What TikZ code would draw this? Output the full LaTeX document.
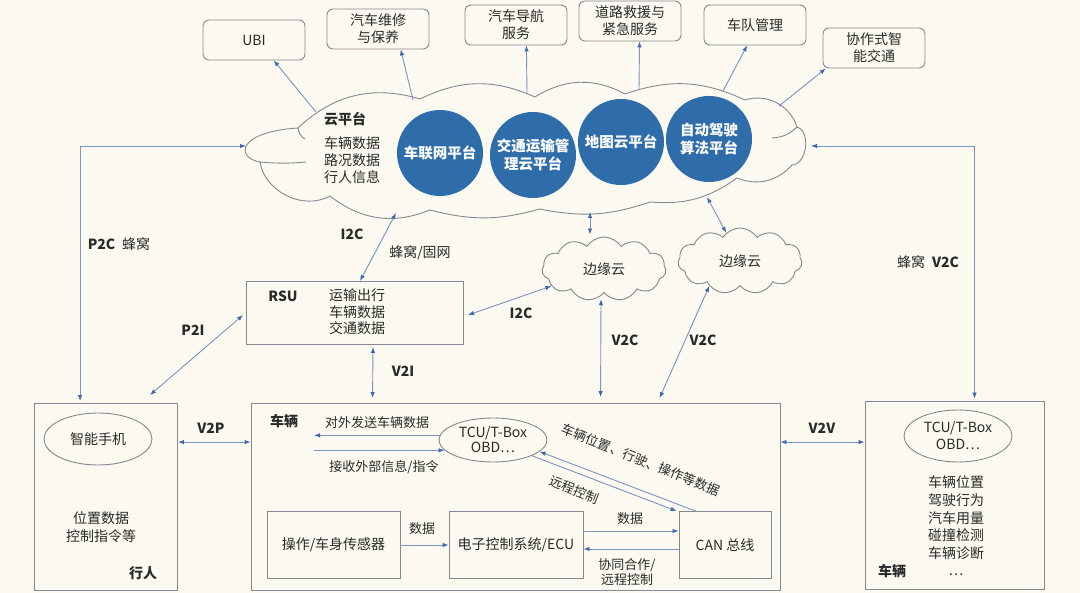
\documentclass[tikz,border=0pt]{standalone}
\usepackage{fontspec}
\setmainfont{Noto Sans CJK SC}
\usetikzlibrary{arrows.meta,positioning,calc,shapes.symbols,shapes.geometric}

\definecolor{cPaper}{HTML}{FCF9F0}
\definecolor{cInk}{HTML}{2A2A2A}
\definecolor{cEdge}{HTML}{858890}
\definecolor{cWire}{HTML}{7A93BF}
\definecolor{cTip}{HTML}{3E68B0}
\definecolor{cPlat}{HTML}{2E6DAA}

\begin{document}
\begin{tikzpicture}[x=1pt, y=-1pt,
  >={Latex[length=6pt,width=4.5pt,color=cTip]},
  every node/.style={text=cInk, font=\fontsize{14}{17}\selectfont, align=center, inner sep=0pt},
  svc/.style={draw=cEdge, line width=0.9pt, rounded corners=6pt, minimum width=102pt, minimum height=40pt},
  plat/.style={circle, fill=cPlat, minimum size=86pt, text=white, font=\bfseries\fontsize{14.5}{18}\selectfont},
  frame/.style={draw=cEdge, line width=0.9pt},
  oval/.style={ellipse, draw=cEdge, line width=0.9pt, minimum width=108pt},
  puff/.style={cloud, cloud puffs=11, cloud puff arc=115, cloud ignores aspect, draw=cEdge, fill=cPaper, line width=0.9pt},
  link/.style={draw=cWire, line width=0.9pt, ->},
  dlink/.style={draw=cWire, line width=0.9pt, <->},
  lbl/.style={font=\bfseries\fontsize{14}{17}\selectfont},
  note/.style={font=\fontsize{13}{16}\selectfont},
]
\fill[cPaper] (0,0) rectangle (1080,593);
\useasboundingbox (0,0) rectangle (1080,593);

% services on top
\node[svc] (ubi) at (254,40) {UBI};
\node[svc] (repair) at (378,29) {汽车维修\\与保养};
\node[svc] (navi) at (516,25) {汽车导航\\服务};
\node[svc] (rescue) at (630,21) {道路救援与\\紧急服务};
\node[svc] (fleet) at (755,25) {车队管理};
\node[svc] (coop) at (874,48) {协作式智\\能交通};

% cloud platform
\draw[frame, fill=cPaper] (260,162) .. controls (236,158) and (236,132) .. (298,128)
  to[bend left=30] (420,99)
  to[bend left=25] (535,97)
  to[bend left=30] (625,94)
  to[bend left=22] (745,100)
  to[bend left=45] (797,127)
  to[bend left=80] (792,165)
  to[bend left=35] (737,178)
  to[bend left=20] (650,202)
  to[bend left=15] (540,209)
  to[bend left=15] (430,210)
  to[bend left=30] (330,196)
  to[bend left=55] cycle;
\draw[frame] (260,162) to[bend right=5] (306,162);
\draw[frame] (298,128) to[bend right=25] (305,139);
\draw[frame] (797,127) to[bend left=20] (772,138);

\coordinate (cu1) at (316,112);
\coordinate (cu2) at (413,100);
\coordinate (cu3) at (527,94);
\coordinate (cu4) at (639,90);
\coordinate (cu5) at (723,91);
\coordinate (cu6) at (779,106);
\coordinate (cb0) at (396,213);
\coordinate (cb1) at (590,212);
\coordinate (cb2) at (707,197);
\coordinate (cleft) at (246,146);
\coordinate (cright) at (811,146);

\node[font=\bfseries\fontsize{14}{17}\selectfont] (ptitle) at (345,119) {云平台};
\node (pdata) at (352,160) {车辆数据\\路况数据\\行人信息};

\node[plat] (iov) at (440,153) {车联网平台};
\node[plat] (traffic) at (533,155) {交通运输管\\理云平台};
\node[plat] (map) at (621,142) {地图云平台};
\node[plat] (adas) at (709,139) {自动驾驶\\算法平台};

% edge clouds
\node[puff, minimum width=124pt, minimum height=64pt] (edge1) at (604,269) {边缘云};
\node[puff, minimum width=124pt, minimum height=66pt] (edge2) at (740,261) {边缘云};

% RSU
\node[frame, minimum width=217pt, minimum height=63pt] (rsu) at (355,313) {};
\node[lbl] (rsutag) at (283,296) {RSU};
\node[font=\fontsize{14}{16.5}\selectfont] (rsudata) at (357,312) {运输出行\\车辆数据\\交通数据};

% pedestrian
\node[frame, minimum width=143pt, minimum height=187pt] (ped) at (106,497) {};
\node[oval, minimum height=52pt] (phone) at (98,439) {智能手机};
\node[font=\fontsize{14}{18}\selectfont] (peddata) at (101,527) {位置数据\\控制指令等};
\node[lbl] (pedtag) at (143,573) {行人};

% vehicle
\node[frame, minimum width=529pt, minimum height=187pt] (car) at (515.5,497) {};
\node[lbl] (cartag) at (284,421) {车辆};
\node[oval, minimum height=44pt, font=\fontsize{14}{15}\selectfont] (tcu) at (493,440) {TCU/T-Box\\OBD⋯};
\node[frame, minimum width=133pt, minimum height=67pt] (sensor) at (333.5,545) {操作/车身传感器};
\node[frame, minimum width=134pt, minimum height=67pt] (ecu) at (516,545) {电子控制系统/ECU};
\node[frame, minimum width=92pt, minimum height=67pt] (can) at (725,545) {CAN 总线};

% other vehicle
\node[frame, minimum width=179pt, minimum height=188pt] (car2) at (954.5,495) {};
\node[oval, minimum height=52pt] (tcu2) at (958,436) {TCU/T-Box\\OBD⋯};
\node[font=\fontsize{14}{17.6}\selectfont] (car2data) at (956,526) {车辆位置\\驾驶行为\\汽车用量\\碰撞检测\\车辆诊断\\⋯};
\node[lbl] (car2tag) at (892,571) {车辆};

% cloud to services
\draw[link] (cu1) -- (ubi.-46);
\draw[link] (cu2) -- (repair.-42);
\draw[link] (cu3) -- (navi.-63);
\draw[link] (cu4) -- (rescue.-65);
\draw[link] (cu5) -- (fleet.249);
\draw[link] (cu6) -- (coop.203);

% long links
\draw[dlink, shorten >=2pt] (cleft) -| ($(ped.north west)+(46,0)$);
\draw[dlink, shorten >=2pt] (cright) -| ($(car2.north west)+(110,0)$);
\node[lbl] (p2c) at (119,244) {P2C\hspace{7pt}\mdseries 蜂窝};
\node (v2cr) at (928,262) {蜂窝\hspace{7pt}\textbf{V2C}};

% RSU links
\draw[dlink] ($(rsu.north)+(5,0)$) -- (cb0);
\node[lbl] (i2cup) at (352,234) {I2C};
\node (fixnet) at (420,253) {蜂窝/固网};
\draw[dlink] ($(rsu.east)+(4,2)$) -- (edge1.198);
\node[lbl] (i2cside) at (521,313) {I2C};
\draw[dlink] ($(rsu.west)+(-3,2)$) -- ($(ped.north east)+(-28,-8)$);
\node[lbl] (p2i) at (193,330) {P2I};
\draw[dlink] ($(rsu.south)+(18,2)$) -- ($(car.north west)+(122,-5)$);
\node[lbl] (v2i) at (403,371) {V2I};

% edge cloud links
\draw[dlink, shorten >=2pt] (cb1) -- (cb1 |- edge1.north);
\draw[dlink] (cb2) -- (edge2.116);
\draw[dlink] ($(edge1.south)+(-3,6)$) -- ($(car.north west)+(350,-6)$);
\draw[dlink] (edge2.219) -- ($(car.north west)+(409,-5)$);
\node[lbl] (v2ca) at (625,340) {V2C};
\node[lbl] (v2cb) at (703,340) {V2C};

% side links
\draw[dlink] ($(ped.north east)+(0,39)$) -- ($(car.north west)+(0,39)$);
\node[lbl] (v2p) at (211,428) {V2P};
\draw[dlink] ($(car.north east)+(0,39)$) -- ($(car2.north west)+(0,41.5)$);
\node[lbl] (v2v) at (822,428) {V2V};

% inside the vehicle
\coordinate (outer) at (314,442);
\draw[link] (tcu.175) -- (tcu.175 -| outer);
\draw[link] (tcu.192 -| outer) -- (tcu.192);
\node[note] (sendlbl) at (377,423) {对外发送车辆数据};
\node[note] (recvlbl) at (384,467) {接收外部信息/指令};
\draw[link] (sensor) -- (ecu);
\node[note] (d1) at (422,529) {数据};
\draw[link] ($(ecu.east)+(0,-14)$) -- ($(can.west)+(0,-14)$);
\node[note] (d2) at (630,519) {数据};
\draw[link] ($(can.west)+(0,4)$) -- ($(ecu.east)+(0,4)$);
\node[font=\fontsize{13}{14.5}\selectfont] (coll) at (627,572) {协同合作/\\远程控制};
\draw[link] ($(can.north west)+(17,0)$) -- (tcu.-14);
\draw[link] (tcu.-22) -- ($(can.north west)+(-2,0)$);
\node[note, rotate=-22] (datalbl) at (641,460) {车辆位置、行驶、操作等数据};
\node[note, rotate=-22] (ctrllbl) at (574,490) {远程控制};
\end{tikzpicture}
\end{document}
